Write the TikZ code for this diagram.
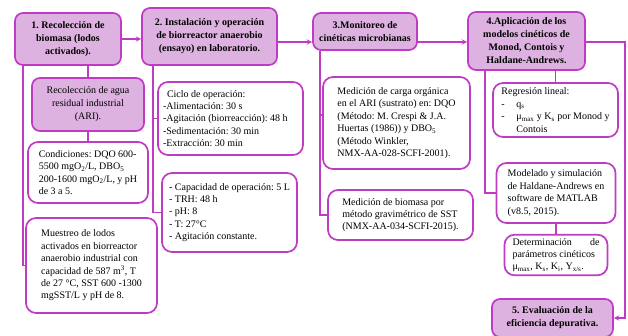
\documentclass[tikz,border=0pt]{standalone}
\usepackage{fontspec}
\setmainfont{Liberation Serif}
\usepackage{tikz}
\usetikzlibrary{shapes, arrows, positioning}
\usepackage{xcolor}
\definecolor{edgepurple}{RGB}{190,60,195}
\definecolor{lilac}{RGB}{222,178,224}
\frenchspacing

\begin{document}
\begin{tikzpicture}[
        x=1pt, y=-1pt,
        font=\fontsize{10}{12.4}\selectfont,
        % Styles
        stage/.style={
            rectangle,
            draw=edgepurple,
            line width=1.7pt,
            fill=lilac,
            rounded corners=8pt,
            align=center,
            font=\fontsize{10}{13}\selectfont\bfseries
          },
        detail/.style={
            rectangle,
            draw=edgepurple,
            line width=1.7pt,
            fill=white,
            rounded corners=10pt,
            align=flush left
          },
        link/.style={
            draw=edgepurple,
            line width=1.4pt
          },
        arrow/.style={
            link,
            ->,
            >=stealth
          }
      ]
      \useasboundingbox (0,0) rectangle (628,335);
      \clip (0,0) rectangle (628,335);

      % Stage nodes (top row)
      \node[stage, minimum width=106pt, minimum height=52pt] (recol) at (68,39)
        {1. Recolección de\\biomasa (lodos\\activados).};
      \node[stage, minimum width=135pt, minimum height=57pt] (instal) at (209.5,36.5)
        {2. Instalación y operación\\de biorreactor anaerobio\\(ensayo) en laboratorio.};
      \node[stage, minimum width=104pt, minimum height=37pt] (monit) at (365,31.5)
        {3.Monitoreo de\\cinéticas microbianas};
      \node[stage, minimum width=117pt, minimum height=58pt] (aplic) at (526.5,41)
        {4.Aplicación de los\\modelos cinéticos de\\Monod, Contois y\\Haldane-Andrews.};
      \node[stage, minimum width=121pt, minimum height=38pt] (evalu) at (552.5,318)
        {5. Evaluación de la\\eficiencia depurativa.};

      % Column 1
      \node[stage, font=\fontsize{10}{13}\selectfont, minimum width=112pt, minimum height=53pt] (ari) at (88,104.5)
        {Recolección de agua\\residual industrial\\(ARI).};
      \node[detail, minimum width=120pt, minimum height=61pt] (cond) at (88,172.5)
        {Condiciones: DQO 600-\\5500 mgO\textsubscript{2}/L, DBO\textsubscript{5}\\200-1600 mgO\textsubscript{2}/L, y pH\\de 3 a 5.};
      \node[detail, minimum width=131pt, minimum height=95pt] (muest) at (91.5,265.5)
        {Muestreo de lodos\\activados en biorreactor\\anaerobio industrial con\\capacidad de 587 m\textsuperscript{3}, T\\de 27 °C, SST 600 -1300\\mgSST/L y pH de 8.};

      % Column 2
      \node[detail, text width=135pt, inner xsep=5pt, minimum height=73pt] (ciclo) at (230.5,118.5)
        {\hspace*{4pt}Ciclo de operación:\\-Alimentación: 30 s\\-Agitación (biorreacción): 48 h\\-Sedimentación: 30 min\\-Extracción: 30 min};
      \node[detail, minimum width=135pt, minimum height=79pt] (capac) at (229.5,212.5)
        {- Capacidad de operación: 5 L\\- TRH: 48 h\\- pH: 8\\- T: 27°C\\- Agitación constante.};

      % Column 3
      \node[detail, minimum width=147pt, minimum height=92pt] (carga) at (396.5,123)
        {Medición de carga orgánica\\en el ARI (sustrato) en: DQO\\(Método: M. Crespi \& J.A.\\Huertas (1986)) y DBO\textsubscript{5}\\(Método Winkler,\\NMX-AA-028-SCFI-2001).};
      \node[detail, minimum width=145pt, minimum height=50pt] (biom) at (400.5,215)
        {Medición de biomasa por\\método gravimétrico de SST\\(NMX-AA-034-SCFI-2015).};

      % Column 4
      \node[detail, minimum width=125pt, minimum height=54pt] (regr) at (555.5,110)
        {Regresión lineal:\\\makebox[15pt][l]{-}q\textsubscript{s}\\\makebox[15pt][l]{-}μ\textsubscript{max} y K\textsubscript{s} por Monod y\\\hspace*{15pt}Contois};
      \node[detail, minimum width=119pt, minimum height=60pt] (model) at (556,193)
        {Modelado y simulación\\de Haldane-Andrews en\\software de MATLAB\\(v8.5, 2015).};
      \node[detail, text width=87pt, inner xsep=8pt, minimum height=38pt] (determ) at (556,255)
        {Determinación\hfill de\\parámetros cinéticos\\μ\textsubscript{max}, K\textsubscript{s}, K\textsubscript{i}, Y\textsubscript{x/s}.};

      % Guide coordinates
      \coordinate (ay) at (0,42);
      \coordinate (l1) at (23,0);
      \coordinate (l2) at (153,0);
      \coordinate (l3) at (320,0);
      \coordinate (l4) at (485,0);
      \coordinate (rl) at (625,0);
      \coordinate (cw) at ([yshift=8pt]carga.west);

      % Arrows (main flow)
      \draw[arrow] (recol.east) -- (recol.east -| instal.west);
      \draw[arrow] (instal.east |- ay) -- (monit.west |- ay);
      \draw[arrow] (monit.east |- ay) -- (aplic.west |- ay);
      \draw[arrow] (aplic.east |- ay) -- (rl |- ay) -- (rl |- evalu.east) -- (evalu.east);

      % Branch lines
      \draw[link] (recol.south -| l1) |- (muest.west);
      \draw[link] (recol.south -| ari.north) -- (ari.north);
      \draw[link] (ari) -- (cond);
      \draw[link] (instal.south -| l2) |- (capac.west);
      \draw[link] (l2 |- ciclo.west) -- (ciclo.west);
      \draw[link] (monit.south -| l3) |- (biom.west);
      \draw[link] (l3 |- cw) -- (cw);
      \draw[link] (aplic.south -| l4) |- (model.west);
      \draw[link] (aplic.south -| regr.north) -- (regr.north);
      \draw[link] (model) -- (determ);

    \end{tikzpicture}
\end{document}
